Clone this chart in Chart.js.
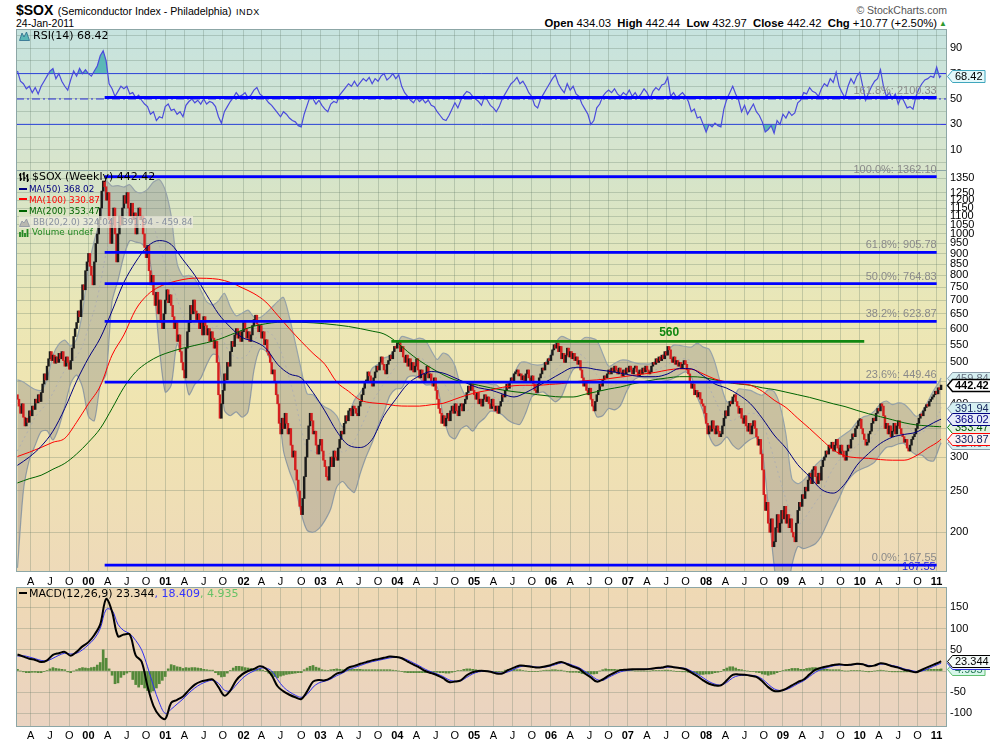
<!DOCTYPE html>
<html>
<head>
<meta charset="utf-8">
<title>$SOX Semiconductor Index - Philadelphia</title>
<script src="https://cdn.jsdelivr.net/npm/chart.js@4.4.1/dist/chart.umd.min.js"></script>
<style>
html,body{margin:0;padding:0;background:#fff;}
body{width:990px;height:744px;position:relative;overflow:hidden;font-family:"Liberation Sans",Arial,sans-serif;color:#000;}
canvas{position:absolute;left:16px;}
.t{position:absolute;white-space:nowrap;line-height:14px;}
.lg{position:absolute;white-space:nowrap;font-family:"DejaVu Sans",sans-serif;line-height:12px;left:19px;}
.ic{display:inline-block;vertical-align:middle;margin-right:3px;}
.ln{display:inline-block;width:8px;height:2px;vertical-align:middle;margin-right:2px;position:relative;top:-1px;}
</style>
</head>
<body>
<div id="hdrL" class="t" style="left:16px;top:3px;"></div>
<div id="hdrDate" class="t" style="left:16px;top:16px;font-size:10.5px;"></div>
<div class="t" style="right:43px;top:3px;font-size:10.5px;color:#555;">&copy; StockCharts.com</div>
<div id="hdrOhlc" class="t" style="right:53px;top:16px;font-size:11.3px;"></div>
<div class="t" style="left:939px;top:17px;font-size:8px;color:#2f9a2f;">&#9650;</div>

<canvas id="cRsi" width="974" height="142" style="top:29px"></canvas>
<canvas id="cMain" width="974" height="429" style="top:160px"></canvas>
<canvas id="cMacd" width="974" height="157" style="top:587px"></canvas>

<div id="lgRsi" class="lg" style="top:30px;font-size:11px;"></div>
<div id="lgSox" class="lg" style="top:171px;font-size:11px;"></div>
<div id="lgMa50" class="lg" style="top:183px;font-size:8.8px;color:#000080;"></div>
<div id="lgMa100" class="lg" style="top:193.5px;font-size:8.8px;color:#ff0000;"></div>
<div id="lgMa200" class="lg" style="top:205px;font-size:8.8px;color:#006400;"></div>
<div id="lgBb" class="lg" style="top:216px;font-size:8.8px;color:#8890a0;background:rgba(238,236,224,0.7);"></div>
<div id="lgVol" class="lg" style="top:226px;font-size:8.8px;color:#228822;"></div>
<div id="lgMacd" class="lg" style="top:588px;font-size:11px;"></div>

<script>
// ---------------- DATA ----------------
// weekly closes, week 0 = 1 Feb 1999 ... last = 24 Jan 2011
const closes = [
410,395,380,400,372,355,370,362,385,375,
395,388,410,402,420,405,425,445,470,455,
490,510,530,505,520,498,515,500,525,510,
530,505,490,515,500,482,505,540,575,600,
620,660,640,700,760,740,820,860,900,840,
800,760,860,950,1000,1080,1150,1260,1330,1290,
1200,1250,1080,950,1050,1150,1000,860,1000,1100,
1050,1150,1230,1180,1250,1150,1100,1180,1080,1120,
1000,1100,1150,1080,1100,1000,930,880,940,820,
760,800,720,680,730,650,700,620,600,650,
700,740,690,720,680,640,600,620,560,580,
530,500,480,460,540,590,620,680,650,700,
660,630,650,600,620,580,640,610,580,600,
560,590,570,540,560,500,420,370,400,430,
470,455,500,490,530,560,545,580,600,570,
590,560,590,620,600,570,590,560,580,610,
630,645,615,590,610,570,590,550,565,530,
520,500,470,480,450,420,400,360,340,370,
350,380,360,340,350,320,300,310,280,265,
250,230,220,240,270,300,330,355,380,365,
340,345,320,305,320,330,310,295,285,270,
265,285,300,285,310,300,295,315,330,345,
340,360,375,365,385,390,375,395,390,380,
375,395,405,420,435,450,450,475,465,450,
440,460,475,490,480,500,515,495,480,470,
495,505,520,510,530,545,540,555,560,530,
545,515,500,520,490,510,480,500,475,490,
510,480,460,480,470,450,470,490,460,470,
450,440,460,430,410,390,380,360,375,355,
370,380,365,385,395,380,400,385,375,395,
400,385,400,410,425,440,430,445,430,420,
410,425,400,410,395,410,420,405,415,400,
390,410,395,385,395,380,395,405,420,415,
430,445,435,450,460,450,470,475,480,465,
470,455,465,450,470,480,460,450,465,445,
430,425,445,460,470,485,480,500,495,510,
505,520,535,550,540,555,530,545,510,525,
500,520,540,515,530,510,525,505,515,495,
505,480,460,440,450,430,420,435,410,395,
385,405,420,430,445,440,455,465,460,470,
480,470,485,475,490,480,470,485,475,465,
480,470,485,475,490,480,470,485,490,475,
465,480,470,485,475,490,480,470,475,490,
500,495,510,500,515,505,520,510,530,520,
545,535,510,500,515,495,505,490,500,485,
495,505,495,480,470,450,435,445,420,430,
415,425,410,400,395,380,360,340,355,345,
365,350,340,355,345,335,340,355,370,385,
375,395,405,400,415,420,405,395,380,390,
370,360,375,355,345,360,340,355,365,350,
335,320,330,305,280,245,225,235,210,200,
215,185,190,205,220,200,210,225,215,230,
210,220,205,215,200,195,190,210,225,235,
230,245,240,255,250,265,275,260,280,285,
270,260,275,265,285,295,300,310,305,320,
315,325,310,320,330,315,305,320,310,300,
295,310,320,315,330,340,335,350,355,365,
368,350,340,330,320,325,340,345,360,370,
365,380,390,385,400,395,375,350,360,340,
355,335,345,360,340,355,365,350,340,335,
325,330,315,310,320,330,335,340,350,360,
370,378,375,385,392,398,395,405,410,415,
420,428,422,436,431.65,442.42];
const priorClose = 420;
const lastBar = {open:434.03, high:442.44, low:432.97, close:442.42, chg:10.77, pct:2.50};

// moving averages, one reading every 8 weeks, last entry = last week
const ma50 = [287,300,318,345,390,452,512,570,660,770,
860,935,965,945,870,800,720,650,605,572,
560,540,495,470,460,425,385,345,320,316,
330,375,410,445,465,476,472,460,447,436,
431,422,415,425,440,455,472,486,486,481,
477,472,466,463,463,470,484,483,465,445,
435,420,400,370,338,315,288,270,252,247,
260,287,306,323,334,339,343,355,367,368.02];
const ma100 = [301,308,316,325,332,362,400,440,520,580,
665,720,752,770,782,788,787,783,770,748,
725,693,645,600,560,525,495,450,428,408,
402,400,396,395,395,398,401,410,419,426,
431,437,441,442,442,444,446,450,453,455,
458,462,466,470,474,480,483,482,470,457,
450,446,442,428,408,392,370,350,330,312,
302,299,298,296,295,295,302,315,328,330.87];
const ma200 = [261,267,272,281,290,305,325,350,390,437,
475,500,518,530,540,548,556,566,580,595,
608,616,621,622,621,619,616,612,607,600,
592,583,560,530,505,485,468,455,448,442,
436,431,427,424,420,417,415,415,421,427,
433,438,445,451,456,460,463,463,461,455,
449,445,442,436,432,426,420,414,407,400,
394,386,379,373,367,361,357,355,353.5,353.47];

// Bollinger bands (20,2), one reading every 4 weeks, last entry = last week
const bbUpper = [455,450,440,432,430,456,519,552,564,546,
567,657,834,965,1081,1330,1294,1298,1288,1304,
1257,1249,1272,1323,1341,1266,1102,853,796,800,
784,739,694,682,697,726,675,643,652,663,
639,637,652,672,694,710,638,556,481,422,
420,404,393,387,375,353,374,408,425,451,
484,495,512,518,543,575,571,565,570,563,
533,508,526,518,491,439,415,445,450,450,
444,443,433,446,470,498,501,495,493,496,
515,554,575,569,561,559,572,571,563,525,
490,497,506,506,501,497,496,496,503,516,
534,549,548,545,543,555,543,537,499,443,
404,410,433,432,430,423,419,431,427,396,
339,267,260,265,275,287,296,306,322,332,
340,348,362,372,376,385,400,406,398,402,
399,387,374,383,405,430,452,459.84];
const bbMid = [310,330,350,372,387,401,424,452,479,496,
517,547,604,665,761,901,994,1038,1088,1134,
1107,1099,1092,1043,941,846,772,703,646,610,
614,599,594,602,607,556,525,513,512,523,
559,587,592,582,554,510,458,406,351,312,
310,304,303,307,315,308,314,328,350,376,
404,425,447,468,488,505,516,515,515,503,
488,473,451,428,411,394,385,395,405,410,
414,413,405,406,415,428,441,455,458,461,
465,479,495,509,521,524,512,491,468,450,
440,442,451,466,476,479,478,478,481,486,
494,504,508,510,503,485,463,437,409,383,
369,365,373,377,380,378,364,331,297,266,
239,217,208,214,224,235,246,266,282,295,
302,310,319,327,329,338,352,361,358,362,
361,349,339,343,350,362,383,391.94];
const bbLower = [165,250,295,320,344,346,329,352,394,446,
467,437,374,365,441,470,694,778,888,964,
957,949,912,763,541,426,442,553,496,420,
444,459,494,522,517,386,375,383,372,383,
479,537,532,492,414,310,278,256,221,202,
200,204,213,227,255,263,254,248,275,301,
324,355,382,418,433,435,461,465,460,443,
443,438,376,338,331,349,355,345,360,370,
384,383,377,366,360,358,381,415,423,426,
415,404,415,449,481,489,452,411,373,375,
390,387,396,426,451,461,460,460,459,456,
454,459,468,475,463,415,383,337,319,323,
334,320,313,322,330,333,309,231,167,136,
139,167,185,183,185,188,196,210,225,240,
258,270,278,282,286,292,305,316,318,322,
323,311,304,303,295,294,318,324.04];

// RSI(14), one reading every 2 weeks, last entry = last week
const rsi = [72,64,62,58,60,55,59,54,60,64,
68,72,74,66,70,64,60,57,65,72,
68,74,70,73,70,68,72,76,84,88,
80,62,58,52,56,60,58,60,54,55,
51,53,49,46,44,38,40,33,36,35,
44,46,41,42,38,40,36,45,48,50,
47,49,46,50,46,48,47,44,36,31,
40,44,48,51,55,52,53,55,51,53,
57,59,54,52,50,47,45,42,39,36,
40,38,35,33,32,29,28,38,45,52,
50,46,49,45,42,40,46,48,47,53,
56,59,62,60,64,60,63,66,64,67,
62,66,64,68,70,65,67,70,66,69,
60,55,52,49,47,51,48,50,47,49,
45,44,40,37,34,33,37,42,47,43,
49,53,56,55,52,50,48,45,52,49,
45,43,40,44,50,54,58,62,64,67,
62,64,60,55,52,45,43,50,54,58,
62,66,69,62,58,55,62,57,60,54,
52,46,42,38,30,33,43,46,52,55,
57,55,58,54,52,55,53,57,52,55,
51,54,58,55,50,56,59,57,61,62,
67,52,55,51,53,55,52,48,40,42,
35,36,30,24,30,28,31,29,28,42,
50,55,60,54,49,40,45,38,42,46,
40,37,32,24,26,29,23,33,30,38,
35,40,37,39,47,49,55,54,59,56,
55,52,58,62,60,66,63,71,60,55,
51,60,66,62,68,71,60,49,55,60,
64,66,73,60,52,55,50,54,46,52,
48,43,44,42,52,58,62,65,66,68,
67,75,67,68.42];
const rsiBands = [70, 30];
const rsiMid = 50;

// MACD(12,26,9): line and signal every 4 weeks, histogram every 2 weeks
const macdLine = [39,34,29,26,21,25,38,42,45,36,
45,58,68,85,110,170,140,82,86,86,
37,22,-36,-82,-105,-113,-75,-68,-60,-45,
-32,-25,-22,-20,-38,-58,-46,-22,-8,0,
5,11,6,-10,-36,-48,-56,-62,-66,-48,
-25,-21,-22,-16,-6,-2,8,12,17,21,
25,28,31,34,33,30,22,15,8,0,
-5,-10,-17,-26,-25,-22,-10,-3,0,0,
-2,-6,-6,2,8,13,12,10,8,10,
13,18,21,16,10,5,-6,-15,-25,-20,
-11,-4,2,3,4,4,4,5,7,8,
11,9,7,4,-4,-12,-22,-30,-34,-34,
-22,-9,-8,-9,-11,-14,-24,-38,-47,-47,
-42,-34,-26,-20,-8,3,8,11,14,16,
14,15,17,16,11,13,18,16,11,8,
3,0,-3,3,9,15,21,23.344];
const macdSignal = [35,36,33,29,25,24,30,37,42,40,
42,50,62,76,100,145,143,110,95,88,
72,50,10,-35,-75,-100,-90,-78,-66,-52,
-40,-31,-25,-22,-29,-45,-47,-33,-18,-7,
0,6,7,0,-20,-38,-49,-57,-62,-55,
-38,-28,-24,-19,-11,-5,3,8,13,18,
22,25,28,31,32,31,26,19,12,4,
-2,-7,-13,-21,-24,-23,-15,-7,-2,-1,
-1,-4,-5,-2,4,10,12,11,9,9,
11,15,19,18,13,8,-1,-10,-20,-22,
-15,-8,-2,1,3,4,4,5,6,7,
9,9,8,6,0,-7,-16,-25,-31,-33,
-27,-16,-11,-10,-10,-12,-19,-31,-42,-46,
-44,-38,-30,-23,-13,-3,4,8,12,14,
14,14,16,16,13,13,16,16,13,10,
5,2,-1,0,5,11,17,18.409];
const macdHist = [4,0,-2,-4,-4,-3,-3,-4,-4,-1,
1,5,8,6,5,4,3,-2,-4,0,
3,6,8,7,6,8,9,14,20,50,
30,5,-10,-30,-28,-15,-9,-5,-2,-20,
-32,-38,-32,-40,-46,-50,-47,-40,-30,-22,
-13,5,15,13,10,9,6,8,7,8,
8,7,6,4,3,2,2,-4,-9,-14,
-13,-5,1,7,11,11,10,8,7,6,
5,5,5,2,-1,-5,-10,-13,-16,-12,
-10,-8,-7,-6,-5,-4,-4,3,7,11,
13,9,7,3,2,1,3,4,5,4,
3,4,5,4,4,4,4,3,3,3,
3,3,3,3,3,3,3,2,1,0,
-1,-3,-4,-4,-4,-4,-4,-4,-4,-3,
-3,-3,-3,-4,-4,-5,-5,-3,-1,1,
1,4,5,5,4,3,2,1,1,0,
-1,-2,-2,-1,-1,2,4,4,4,3,
3,1,0,-1,-1,-1,-1,0,1,2,
2,3,3,2,2,0,-2,-3,-3,-3,
-4,-6,-7,-7,-7,-7,-6,0,3,5,
4,4,4,3,4,3,2,1,1,0,
0,0,0,0,0,1,1,1,1,2,
2,1,0,-1,-1,-2,-2,-3,-4,-5,
-7,-8,-8,-7,-7,-6,-4,-3,-1,4,
7,10,10,7,4,3,1,0,-1,-1,
-3,-4,-7,-8,-10,-8,-7,-4,-1,1,
3,4,6,6,6,4,4,6,7,8,
8,7,6,4,4,3,3,3,3,1,
0,0,1,1,1,1,0,-1,-2,-1,
0,1,2,1,0,-1,-2,-2,-2,-2,
-2,-2,-2,-2,-2,1,3,3,4,4,
4,4,4,4.935];

// Fibonacci retracement and resistance
const fibLevels = [1362.10, 905.78, 764.83, 623.87, 449.46, 167.55];
const fibNames = ['100.0%', '61.8%', '50.0%', '38.2%', '23.6%', '0.0%'];
const fibExtLevel = 2100.33, fibExtName = '161.8%';
const fibFrom = '2000-03-20', fibTo = '2011-01-03';
const resistance = 560, resFrom = '2003-12-08', resTo = '2010-01-25', resLabelAt = '2007-07-16';

// axis ticks
const priceTicks = [1350,1250,1200,1150,1100,1050,1000,950,900,850,800,750,700,650,600,550,500,450,400,350,300,250,200];
const rsiTicks = [0,10,20,30,40,50,60,70,80,90,100];
const rsiLabelled = [10,30,50,70,90];
const macdTicks = [-100,-50,0,50,100,150];
const monthLetters = ['A','J','O'];

// ---------------- SETUP ----------------
const FONT = '"Liberation Sans", Arial, sans-serif';
const GRID = 'rgba(90,115,95,0.27)';
Chart.defaults.font.family = FONT;
Chart.defaults.font.size = 11;
Chart.defaults.color = '#000';

const START = Date.UTC(1999, 1, 1), WEEK = 7 * 864e5;
const wk = d => (Date.parse(d + 'T00:00:00Z') - START) / WEEK;
const N = closes.length, LAST = N - 1;
const X_MIN = -1, X_MAX = 629;
const MAIN_MIN = 161.4, MAIN_MAX = 1412;
const RSI_MIN = -6.7, RSI_MAX = 105.1;
const MACD_MIN = -132, MACD_MAX = 198;
const MAIN_H = 402, RSI_H = 142;
// price range that the RSI panel would cover if the log price scale continued upward
const RSI_PRICE_MIN = MAIN_MAX;
const RSI_PRICE_MAX = Math.exp(Math.log(MAIN_MAX) + (Math.log(MAIN_MAX) - Math.log(MAIN_MIN)) * RSI_H / MAIN_H);

function pts(arr, step) { return arr.map((v, k) => ({x: k === arr.length - 1 ? LAST : k * step, y: v})); }

const xTicks = [];
for (let y = 1999; y <= 2011; y++) {
  [0, 3, 6, 9].forEach(m => {
    const w = Math.ceil((Date.UTC(y, m, 1) - START) / WEEK);
    if (w < 0 || w > LAST) return;
    xTicks.push({v: w, major: m === 0, label: m === 0 ? String(y % 100).padStart(2, '0') : monthLetters[m / 3 - 1]});
  });
}
const tickLabel = new Map(xTicks.map(t => [t.v, t.label]));

function xAxis(show, pad) {
  return {
    type: 'linear', min: X_MIN, max: X_MAX, bounds: 'data', offset: false,
    grid: {color: GRID, lineWidth: 1, drawTicks: false, offset: false}, border: {display: false},
    ticks: {display: show, autoSkip: false, maxRotation: 0, minRotation: 0, padding: pad, color: '#000',
      font: c => ({family: FONT, size: 11, weight: (c.tick && c.tick.major) ? 'bold' : 'normal'}),
      callback: v => tickLabel.get(v) || ''},
    afterBuildTicks: s => { s.ticks = xTicks.map(t => ({value: t.v, major: t.major})); },
    afterFit: s => { s.height = show ? 17 : 0; s.paddingLeft = 0; s.paddingRight = 0; }
  };
}
function yAxis(type, min, max, ticks, cb) {
  return {
    type, position: 'right', min, max, bounds: 'data', beginAtZero: false,
    grid: {color: GRID, lineWidth: 1, drawTicks: false}, border: {display: false},
    ticks: {padding: 3, color: '#000', autoSkip: false, font: {family: FONT, size: 11}, callback: cb},
    afterBuildTicks: s => { s.ticks = ticks.map(v => ({value: v})); },
    afterFit: s => { s.width = 43; s.paddingTop = 0; s.paddingBottom = 0; }
  };
}

const panel = {
  id: 'panel',
  beforeDraw(chart, a, o) {
    const {ctx, chartArea: c} = chart;
    const g = ctx.createLinearGradient(0, c.top, 0, c.bottom);
    o.stops.forEach(s => g.addColorStop(s[0], s[1]));
    ctx.save(); ctx.fillStyle = g; ctx.fillRect(c.left, c.top, c.right - c.left, c.bottom - c.top); ctx.restore();
  },
  afterDraw(chart) {
    const {ctx, chartArea: c} = chart;
    ctx.save(); ctx.strokeStyle = '#8ca6a6'; ctx.lineWidth = 1;
    ctx.strokeRect(c.left + 0.5, c.top + 0.5, c.right - c.left - 1, c.bottom - c.top - 1); ctx.restore();
  }
};

function tag(ctx, x0, yv, text, st) {
  const yy = Math.round(yv) + 0.5;
  ctx.font = (st.bold ? 'bold ' : '') + '11px ' + FONT;
  const w = ctx.measureText(text).width, h = 12, p = 5;
  ctx.beginPath();
  ctx.moveTo(x0, yy); ctx.lineTo(x0 + p, yy - h / 2); ctx.lineTo(x0 + p + w + 5, yy - h / 2);
  ctx.lineTo(x0 + p + w + 5, yy + h / 2); ctx.lineTo(x0 + p, yy + h / 2); ctx.closePath();
  ctx.fillStyle = st.bg; ctx.fill();
  ctx.lineWidth = st.lw || 1; ctx.strokeStyle = st.border; ctx.stroke();
  ctx.fillStyle = st.color; ctx.textAlign = 'left'; ctx.textBaseline = 'middle';
  ctx.fillText(text, x0 + p + 2.5, yy + 0.5);
}
const lastOf = a => a[a.length - 1];
const f2 = v => v.toFixed(2);

// ---------------- MAIN PRICE PANEL ----------------
const bars = closes.map((c, i) => ({x: i, y: [i ? closes[i - 1] : priorClose, c]}));
const barColors = closes.map((c, i) => c >= (i ? closes[i - 1] : priorClose) ? '#1b1b1b' : '#d41f1f');
const line = (data, color, width, order, extra) => Object.assign({type: 'line', data, borderColor: color, borderWidth: width, pointRadius: 0, fill: false, order}, extra || {});

const mainOverlay = {
  id: 'mainOverlay',
  afterDraw(chart) {
    const {ctx, chartArea: c, scales: {x, y}} = chart;
    ctx.save();
    ctx.font = '11px ' + FONT; ctx.textAlign = 'right'; ctx.textBaseline = 'middle'; ctx.fillStyle = '#8a8a8a';
    const xr = x.getPixelForValue(wk(fibTo));
    fibLevels.forEach((v, k) => ctx.fillText(fibNames[k] + ': ' + f2(v), xr, y.getPixelForValue(v) - 7));
    ctx.fillStyle = '#1a1ae0';
    ctx.fillText(f2(lastOf(fibLevels)), xr - 1, y.getPixelForValue(lastOf(fibLevels)) + 1.5);
    ctx.font = 'bold 12px ' + FONT; ctx.textAlign = 'center'; ctx.fillStyle = '#118811';
    ctx.fillText(String(resistance), x.getPixelForValue(wk(resLabelAt)), y.getPixelForValue(resistance) - 9);
    const x0 = c.right + 0.5;
    const cyan = '#d6f0f2', gb = '#8a9aa8';
    tag(ctx, x0, y.getPixelForValue(lastOf(bbLower)), f2(lastOf(bbLower)), {bg: cyan, border: gb, color: '#667080'});
    tag(ctx, x0, y.getPixelForValue(lastOf(bbUpper)), f2(lastOf(bbUpper)), {bg: cyan, border: gb, color: '#667080'});
    tag(ctx, x0, y.getPixelForValue(lastOf(bbMid)), f2(lastOf(bbMid)), {bg: cyan, border: gb, color: '#1a2a60'});
    tag(ctx, x0, y.getPixelForValue(lastOf(ma200)), f2(lastOf(ma200)), {bg: '#e2f2e2', border: '#008000', color: '#005000'});
    tag(ctx, x0, y.getPixelForValue(lastOf(ma50)), f2(lastOf(ma50)), {bg: '#e6ecf8', border: '#000080', color: '#000080'});
    tag(ctx, x0, y.getPixelForValue(lastOf(ma100)), f2(lastOf(ma100)), {bg: '#fbf1f1', border: '#ff0000', color: '#102060'});
    tag(ctx, x0, y.getPixelForValue(lastOf(closes)), f2(lastOf(closes)), {bg: '#ffffff', border: '#000000', color: '#000', bold: true, lw: 1.5});
    ctx.restore();
  }
};

const fibSets = fibLevels.map(v => line([{x: wk(fibFrom), y: v}, {x: wk(fibTo), y: v}], '#0000ff', 2.7, 3));
const mainChart = new Chart(document.getElementById('cMain'), {
  type: 'line',
  data: {datasets: [
    line(pts(bbUpper, 4), '#97a3a9', 1.2, 10, {fill: '+1', backgroundColor: 'rgba(112,114,124,0.30)', tension: 0.25}),
    line(pts(bbLower, 4), '#97a3a9', 1.2, 10, {tension: 0.25}),
    line(pts(bbMid, 4), '#b0b0b0', 1, 9, {borderDash: [2, 3], tension: 0.3}),
    {type: 'bar', data: bars, backgroundColor: barColors, borderWidth: 0, barThickness: 1.8, minBarLength: 2, order: 8},
    line(pts(ma200, 8), '#006400', 1, 7, {cubicInterpolationMode: 'monotone'}),
    line(pts(ma100, 8), '#ff0000', 1, 6, {cubicInterpolationMode: 'monotone'}),
    line(pts(ma50, 8), '#000080', 1, 5, {cubicInterpolationMode: 'monotone'}),
    ...fibSets,
    line([{x: wk(resFrom), y: resistance}, {x: wk(resTo), y: resistance}], '#118811', 2.6, 3)
  ]},
  options: {
    responsive: false, animation: false, events: [],
    layout: {padding: {top: 10, left: 0, right: 0, bottom: 0}},
    plugins: {legend: {display: false}, tooltip: {enabled: false},
      panel: {stops: [[0, '#d4e4ca'], [0.35, '#ebe7b6'], [0.6, '#f0e4b0'], [1, '#eedab9']]}},
    scales: {x: xAxis(true, 3), y: yAxis('logarithmic', MAIN_MIN, MAIN_MAX, priceTicks, v => String(v))}
  },
  plugins: [panel, mainOverlay]
});

// ---------------- RSI PANEL ----------------
const rsiPts = pts(rsi, 2);
const rsiOverlay = {
  id: 'rsiOverlay',
  afterDraw(chart) {
    const {ctx, chartArea: c, scales: {x, y, yp}} = chart;
    ctx.save();
    ctx.font = '11px ' + FONT; ctx.textAlign = 'right'; ctx.textBaseline = 'middle'; ctx.fillStyle = '#8a8a8a';
    ctx.fillText(fibExtName + ': ' + f2(fibExtLevel), x.getPixelForValue(wk(fibTo)), yp.getPixelForValue(fibExtLevel) - 6);
    tag(ctx, c.right + 0.5, y.getPixelForValue(lastOf(rsi)), f2(lastOf(rsi)), {bg: '#e4f8fa', border: '#3fa6bd', color: '#000'});
    ctx.restore();
  }
};
const rsiChart = new Chart(document.getElementById('cRsi'), {
  type: 'line',
  data: {datasets: [
    line(rsiPts, '#4b4bdc', 1.2, 1, {fill: {target: {value: rsiBands[0]}, above: 'rgba(72,176,176,0.85)', below: 'rgba(0,0,0,0)'}}),
    line(rsiPts, 'rgba(0,0,0,0)', 0, 2, {fill: {target: {value: rsiBands[1]}, above: 'rgba(0,0,0,0)', below: 'rgba(72,176,176,0.85)'}}),
    ...rsiBands.map(v => line([{x: X_MIN, y: v}, {x: X_MAX, y: v}], '#2a2ae6', 1, 3)),
    line([{x: X_MIN, y: rsiMid}, {x: X_MAX, y: rsiMid}], '#2a2ad8', 1, 3, {borderDash: [8, 3, 2, 3]}),
    line([{x: wk(fibFrom), y: fibExtLevel}, {x: wk(fibTo), y: fibExtLevel}], '#0000ff', 3, 0, {yAxisID: 'yp'})
  ]},
  options: {
    responsive: false, animation: false, events: [],
    layout: {padding: 0},
    plugins: {legend: {display: false}, tooltip: {enabled: false},
      panel: {stops: [[0, '#c6e3df'], [1, '#d9e5cb']]}},
    scales: {
      x: xAxis(false, 0),
      y: yAxis('linear', RSI_MIN, RSI_MAX, rsiTicks, v => rsiLabelled.includes(v) ? String(v) : ''),
      yp: {type: 'logarithmic', display: false, min: RSI_PRICE_MIN, max: RSI_PRICE_MAX, bounds: 'data'}
    }
  },
  plugins: [panel, rsiOverlay]
});

// ---------------- MACD PANEL ----------------
const macdOverlay = {
  id: 'macdOverlay',
  afterDraw(chart) {
    const {ctx, chartArea: c, scales: {y}} = chart;
    ctx.save();
    const x0 = c.right + 0.5;
    tag(ctx, x0, y.getPixelForValue(lastOf(macdHist)), lastOf(macdHist).toFixed(3), {bg: '#d6f6ea', border: '#5fbf6f', color: '#2a7a5a'});
    tag(ctx, x0, y.getPixelForValue(lastOf(macdSignal)), lastOf(macdSignal).toFixed(3), {bg: '#eef0ff', border: '#2f2fe0', color: '#2f2fe0'});
    tag(ctx, x0, y.getPixelForValue(lastOf(macdLine)), lastOf(macdLine).toFixed(3), {bg: '#f4faf8', border: '#000', color: '#000'});
    ctx.restore();
  }
};
const macdChart = new Chart(document.getElementById('cMacd'), {
  type: 'line',
  data: {datasets: [
    {type: 'bar', data: pts(macdHist, 2), backgroundColor: '#55893a', borderWidth: 0, barThickness: 2, order: 5},
    line(pts(macdSignal, 4), '#3030f0', 1, 3, {tension: 0.35}),
    line(pts(macdLine, 4), '#000000', 2, 2, {tension: 0.35})
  ]},
  options: {
    responsive: false, animation: false, events: [],
    layout: {padding: 0},
    plugins: {legend: {display: false}, tooltip: {enabled: false},
      panel: {stops: [[0, '#efd9b4'], [1, '#ead3c1']]}},
    scales: {x: xAxis(true, 2), y: yAxis('linear', MACD_MIN, MACD_MAX, macdTicks, v => String(v))}
  },
  plugins: [panel, macdOverlay]
});

// ---------------- TEXT ----------------
document.getElementById('hdrL').innerHTML =
  '<b style="font-size:14px">$SOX</b> <span style="font-size:10.6px">(Semiconductor Index - Philadelphia)</span> ' +
  '<span style="font-size:9px;letter-spacing:0.6px">INDX</span>';
document.getElementById('hdrDate').textContent = '24-Jan-2011';
document.getElementById('hdrOhlc').innerHTML =
  '<b>Open</b> ' + f2(lastBar.open) + '&nbsp; <b>High</b> ' + f2(lastBar.high) + '&nbsp; <b>Low</b> ' + f2(lastBar.low) +
  '&nbsp; <b>Close</b> ' + f2(lastBar.close) + '&nbsp; <b>Chg</b> +' + f2(lastBar.chg) + ' (+' + f2(lastBar.pct) + '%)';

const svgRsi = '<svg class="ic" width="11" height="10"><path d="M0.5 9.5 L3 2 L5 6 L7.5 1 L10.5 9.5Z" fill="#5bb7b7" stroke="#2a6a8a" stroke-width="0.8"/></svg>';
const svgSox = '<svg class="ic" width="10" height="10"><path d="M1.5 1v8M0 3h1.5M1.5 7h1.5M5 0v9M3.5 2h1.5M5 6h1.5M8.5 2v8M7 4h1.5M8.5 8h1.5" stroke="#000" stroke-width="1.4"/></svg>';
const svgBb = '<svg class="ic" width="11" height="9"><path d="M0.5 8.5 L3 3 L5 5 L7.5 1 L10.5 8.5Z" fill="#b8b8b0" stroke="#8890a0" stroke-width="0.8"/></svg>';
const svgVol = '<svg class="ic" width="10" height="9"><path d="M1 9V4M3.5 9V2M6 9V5M8.5 9V1" stroke="#228822" stroke-width="1.8"/></svg>';
const dash = c => '<span class="ln" style="background:' + c + '"></span>';

document.getElementById('lgRsi').innerHTML = svgRsi + 'RSI(14) ' + f2(lastOf(rsi));
document.getElementById('lgSox').innerHTML = svgSox + '$SOX (Weekly) ' + f2(lastOf(closes));
document.getElementById('lgMa50').innerHTML = dash('#000080') + 'MA(50) ' + f2(lastOf(ma50));
document.getElementById('lgMa100').innerHTML = dash('#ff0000') + 'MA(100) ' + f2(lastOf(ma100));
document.getElementById('lgMa200').innerHTML = dash('#006400') + 'MA(200) ' + f2(lastOf(ma200));
document.getElementById('lgBb').innerHTML = svgBb + 'BB(20,2.0) ' + f2(lastOf(bbLower)) + ' - ' + f2(lastOf(bbMid)) + ' - ' + f2(lastOf(bbUpper));
document.getElementById('lgVol').innerHTML = svgVol + 'Volume undef';
document.getElementById('lgMacd').innerHTML = dash('#000') + 'MACD(12,26,9) ' + lastOf(macdLine).toFixed(3) +
  '<span style="color:#3333ff">, ' + lastOf(macdSignal).toFixed(3) + '</span><span style="color:#66c266">, ' + lastOf(macdHist).toFixed(3) + '</span>';
</script>
</body>
</html>
